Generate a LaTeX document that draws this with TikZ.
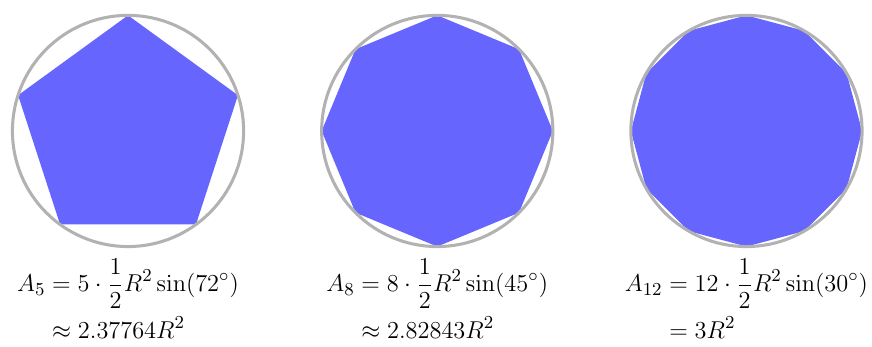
\documentclass[tikz,border=0pt]{standalone}
\usepackage{amsmath,amssymb}
\usepackage{xcolor}
\usepackage{tikz}
\usetikzlibrary{shapes.geometric,positioning}

\begin{document}
\begin{tikzpicture}[
  rim/.style={circle, draw=black!30, line width=1.5pt, minimum size=4cm, inner sep=0pt},
  poly/.style={regular polygon, fill=blue!60, minimum size=4cm, inner sep=0pt},
  formula/.style={font=\fontsize{12.4}{15}\selectfont},
]

\useasboundingbox (-2.215,-3.737) rectangle (12.872,2.266);

\def\gap{5.35}
\def\lbly{-2.98}

% --- Pentagon ---
\node[poly, regular polygon sides=5] (p5) at (0,0) {};
\node[rim] (c5) at (0,0) {};
\node[formula] (f5) at (0,\lbly) {$\begin{aligned}
  A_5 &= 5\cdot\frac{1}{2}R^2\sin(72^\circ)\\
      &\approx 2.37764R^2
\end{aligned}$};

% --- Octagon ---
\node[poly, regular polygon sides=8, shape border rotate=22.5] (p8) at (\gap,0) {};
\node[rim] (c8) at (\gap,0) {};
\node[formula] (f8) at (\gap,\lbly) {$\begin{aligned}
  A_8 &= 8\cdot\frac{1}{2}R^2\sin(45^\circ)\\
      &\approx 2.82843R^2
\end{aligned}$};

% --- Dodecagon ---
\node[poly, regular polygon sides=12, shape border rotate=15] (p12) at (2*\gap,0) {};
\node[rim] (c12) at (2*\gap,0) {};
\node[formula] (f12) at (2*\gap,\lbly) {$\begin{aligned}
  A_{12} &= 12\cdot\frac{1}{2}R^2\sin(30^\circ)\\
         &= 3R^2
\end{aligned}$};

\end{tikzpicture}
\end{document}
